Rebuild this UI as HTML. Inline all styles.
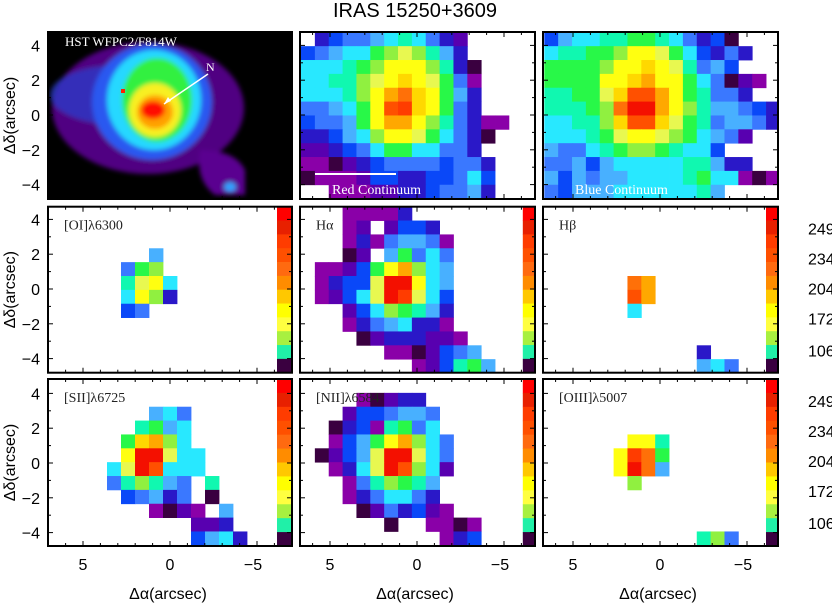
<!DOCTYPE html>
<html><head><meta charset="utf-8"><style>
html,body{margin:0;padding:0;background:#fff;}
svg{display:block;font-family:"Liberation Sans",sans-serif;}
.lab{font-family:"Liberation Serif","DejaVu Serif",serif;font-size:14px;fill:#222;}
.tk{font-size:16px;fill:#000;}
</style></head><body>
<svg id="fig" width="832" height="603" viewBox="0 0 832 603" xmlns="http://www.w3.org/2000/svg">
<defs>
<clipPath id="hstclip"><rect x="48" y="32" width="244" height="167"/></clipPath>
<filter id="blur"><feGaussianBlur stdDeviation="2.5"/></filter>
</defs>
<text x="415" y="17" text-anchor="middle" font-size="20">IRAS 15250+3609</text>
<g id="hst" clip-path="url(#hstclip)">
<rect x="48" y="32" width="244" height="167" fill="#000"/>
<g filter="url(#blur)">
<ellipse cx="148" cy="108" rx="96" ry="66" fill="#5a0090" opacity="0.9"/>
<path d="M200 150 Q235 150 245 170 L245 195 L215 195 Q195 180 200 150 Z" fill="#5a0090"/>
<ellipse cx="120" cy="95" rx="70" ry="30" fill="#2a40d0" opacity="0.7"/>
<ellipse cx="152" cy="102" rx="60" ry="58" fill="#2a58f0"/>
<ellipse cx="154" cy="100" rx="47" ry="50" fill="#28d8ff"/>
<ellipse cx="157" cy="100" rx="35" ry="42" fill="#30f040"/>
<ellipse cx="155" cy="110" rx="26" ry="27" fill="#f8f020"/>
<ellipse cx="155" cy="112" rx="18" ry="17" fill="#ffa000"/>
<ellipse cx="153" cy="110" rx="12" ry="9" fill="#ff1000"/>
<ellipse cx="230" cy="187" rx="6" ry="5" fill="#30a0ff"/>
</g>
<rect x="121" y="89" width="4" height="4" fill="#ff2000"/>
<text x="65" y="46" font-family="Liberation Serif,serif" font-size="13" fill="#fff">HST WFPC2/F814W</text>
<text x="206" y="71" font-family="Liberation Serif,serif" font-size="12" fill="#fff">N</text>
<line x1="208" y1="74" x2="164" y2="104" stroke="#fff" stroke-width="1.5"/>
<path d="M164 104 L168 97 L171 101 Z" fill="#fff"/>
</g>
<g id="cells"></g>
<g id="frames"></g>
</svg>
<script>
const palette = {k:'#3a0040',m:'#8a00a8',v:'#5800b0',i:'#2a18c8',b:'#0a48f8',B:'#3a78ff',l:'#48b0ff',c:'#28e8ff',t:'#10f8b0',g:'#28f848',G:'#90f040',Y:'#e8f850',y:'#ffff10',o:'#ffd800',O:'#ffa800',p:'#ff7008',r:'#ff5000',q:'#ff3c00',R:'#f41000'};
const colorbarColors = ['#ff0000','#e82000','#ff3c00','#ff5000','#ff6a10','#ff8c00','#ffc800','#ffff00','#ffff40','#a8f040','#20f0a8','#3a0040'];
const colorbarTicks = ['249','234','204','172','106'];
const xTickLabels = ['5','0','\u22125'];
const xTickValues = [5,0,-5];
const yTickValues = [4,2,0,-2,-4];
const redCont = [".ibBBlctcBiv.....","bBlccgGYGtli.....","ccctgGyyyGtik....","ccttGYyoyYgBm....","ccctGyOpoygli....","BBlcgyrqoygBi....","bBBlgyOOyGtBimm..","iiblcGyyYgcBik...","vvibBcggccBBi....","mmkvibBBBBbBBi...","kmmmvbbiibbBcb...","..mmmvviibBBli..."];
const blueCont = ["blccttggtcBibk...","cttggGyyYgcbiBi..","ggggGyyoyYtBlb...","ggggyyoOyygcBkvm.","ttggYorrOygtBBi..","tttgGpRROyGtllBbi","ccttGorroYgtBllBi","ccctgYyyYGgclBv..","lBBctgGGgtccb....","BBlblcccccttlii..","lblBllcccctgccmkm","Bblllcccccctl...."];
const oi6300 = [".................",".................",".................",".......l.........",".....BgG.........",".....tYyc........",".....cyGi........",".....bB..........",".................",".................",".................","................."];
const halpha = ["...mmmmi.........","...mv.vbbi.......","...mimBllBm......","...kv.lgBcB......",".mmvbgyOGcl......",".mibbYRRycl......",".mvbcYRqYcb......","...vbcGgtli......","...miBlciim......","....kviiivvm.....","......mmkvbBl....","........mvbtgl..."];
const hbeta = [".................",".................",".................",".................",".................","......pO.........","......rO.........","......c..........",".................",".................","...........i.....","...........lcB..."];
const sii6725 = [".................",".................",".......lcB.......","......tglc.......",".....goOGc.......",".....yRRYcc......","....cYRrccc......","....BtGtlB.t.....",".....bBliB.k.....",".......mkvm.l....","..........vvi....","..........blci..."];
const nii6584 = [".................","....mkvii........","...vbbBllB.......","..kibmtgBc.......","..mblgyOGcB......",".kvblYRRYcB......","..micYRrGcv......","...mBtGgtl.......","...miBccBi.......","....kvBibvm......","......k..mmkm....","..........mib...."];
const oiii5007 = [".................",".................",".................",".................","......yyt........",".....yqpg........",".....yRpl........","......G..........",".................",".................",".................","...........tGB..."];

const NS='http://www.w3.org/2000/svg';
const cellsG=document.getElementById('cells');
const framesG=document.getElementById('frames');
function mk(tag,attrs,parent){const e=document.createElementNS(NS,tag);for(const k in attrs)e.setAttribute(k,attrs[k]);parent.appendChild(e);return e;}

const colX=[{x0:48,x1:292,gx:51,gw:14,cx:170,cb:277},{x0:300,x1:535,gx:301,gw:13.86,cx:417,cb:522.8},{x0:543,x1:778,gx:544.3,gw:13.86,cx:660,cb:766}];
const rowY=[{y0:32,y1:199,gy:32.3,cy:115},{y0:206.7,y1:372.7,gy:206.7,cy:289},{y0:379,y1:546,gy:379,cy:463}];
const gh=13.86, scale=17.4;
function xs(c,a){return colX[c].cx-scale*a;}
function ys(r,d){return rowY[r].cy-scale*d;}

const panels=[
 {r:0,c:1,data:redCont,name:'red-continuum',label:null,cbar:false},
 {r:0,c:2,data:blueCont,name:'blue-continuum',label:null,cbar:false},
 {r:1,c:0,data:oi6300,name:'oi-6300',label:'[OI]\u03bb6300',cbar:true},
 {r:1,c:1,data:halpha,name:'halpha',label:'H\u03b1',cbar:true},
 {r:1,c:2,data:hbeta,name:'hbeta',label:'H\u03b2',cbar:true},
 {r:2,c:0,data:sii6725,name:'sii-6725',label:'[SII]\u03bb6725',cbar:true},
 {r:2,c:1,data:nii6584,name:'nii-6584',label:'[NII]\u03bb6584',cbar:true},
 {r:2,c:2,data:oiii5007,name:'oiii-5007',label:'[OIII]\u03bb5007',cbar:true}
];
panels.forEach(p=>{
 const C=colX[p.c],R=rowY[p.r];
 const g=mk('g',{},cellsG);
 
 
 p.data.forEach((row,ri)=>{
  for(let ci=0;ci<row.length;ci++){
   const ch=row[ci]; if(ch==='.'||!palette[ch])continue;
   if(p.cbar && C.gx+ci*C.gw>=C.cb-1)continue;
   const w=Math.min(C.gw, C.x1-(C.gx+ci*C.gw));
   if(w<=0)continue;
   const e=mk('rect',{x:(C.gx+ci*C.gw).toFixed(2),y:(R.gy+ri*gh).toFixed(2),width:(w+0.4).toFixed(2),height:(gh+0.4).toFixed(2),fill:palette[ch]},g);
   
   
  }
 });
 if(p.cbar){
  const cb=mk('g',{},g);
  
  
  const h=(R.y1-R.y0)/colorbarColors.length;
  colorbarColors.forEach((col,i)=>{
   const e=mk('rect',{x:C.cb,y:(R.y0+i*h).toFixed(2),width:(C.x1-C.cb).toFixed(2),height:(h+0.4).toFixed(2),fill:col},cb);
   
   
  });
 }
 if(p.label){
  const t=mk('text',{x:C.x0+16,y:R.y0+23,class:'lab'},g);
  t.textContent=p.label;
  
  
 }
});
[[1,'Red Continuum'],[2,'Blue Continuum']].forEach(([c,s])=>{
 const t=mk('text',{x:colX[c].x0+32,y:194,'font-family':'Liberation Serif,serif','font-size':'14',fill:'#fff'},cellsG);
 t.textContent=s;
 
 
});
const sb=mk('line',{x1:315,y1:174,x2:396,y2:174,stroke:'#fff','stroke-width':2},cellsG);



for(let r=0;r<3;r++)for(let c=0;c<3;c++){
 const C=colX[c],R=rowY[r];
 const f=mk('rect',{x:C.x0,y:R.y0,width:C.x1-C.x0,height:R.y1-R.y0,fill:'none',stroke:'#000','stroke-width':2},framesG);
 
 
 for(let a=-6;a<=6;a++){
  const x=xs(c,a); if(x<=C.x0+1||x>=C.x1-1)continue;
  mk('line',{x1:x,y1:R.y1,x2:x,y2:R.y1-(a%5===0?5:3),stroke:'#000','stroke-width':1},framesG);
  mk('line',{x1:x,y1:R.y0,x2:x,y2:R.y0+(a%5===0?5:3),stroke:'#000','stroke-width':1},framesG);
 }
 for(let d=-4;d<=4;d++){
  const y=ys(r,d); if(y<=R.y0+1||y>=R.y1-1)continue;
  mk('line',{x1:C.x0,y1:y,x2:C.x0+(d%2===0?5:3),y2:y,stroke:'#000','stroke-width':1},framesG);
  mk('line',{x1:C.x1,y1:y,x2:C.x1-(d%2===0?5:3),y2:y,stroke:'#000','stroke-width':1},framesG);
 }
}
for(let r=0;r<3;r++){
 yTickValues.forEach(v=>{
  const t=mk('text',{x:40,y:ys(r,v)+6,'text-anchor':'end',class:'tk'},framesG);
  t.textContent=v<0?'\u2212'+(-v):String(v);
  
  
 });
 const cy=(rowY[r].y0+rowY[r].y1)/2;
 const t=mk('text',{x:15,y:cy,'text-anchor':'middle','font-size':'16',transform:'rotate(-90 15 '+cy+')'},framesG);
 t.textContent='\u0394\u03b4(arcsec)';
 
 
}
for(let c=0;c<3;c++){
 xTickValues.forEach((v,i)=>{
  const t=mk('text',{x:xs(c,v)-(v<0?4:0),y:570,'text-anchor':'middle',class:'tk'},framesG);
  t.textContent=xTickLabels[i];
  
  
 });
 const t=mk('text',{x:colX[c].cx-2,y:599,'text-anchor':'middle','font-size':'16'},framesG);
 t.textContent='\u0394\u03b1(arcsec)';
 
 
}
[1,2].forEach(r=>{
 const R=rowY[r];
 const ys2=[R.y0+22,R.y0+52,R.y0+82,R.y0+112,R.y0+144];
 colorbarTicks.forEach((s,i)=>{
  const t=mk('text',{x:808,y:ys2[i]+6,class:'tk'},framesG);
  t.textContent=s;
  
  
 });
});
</script>
</body></html>
